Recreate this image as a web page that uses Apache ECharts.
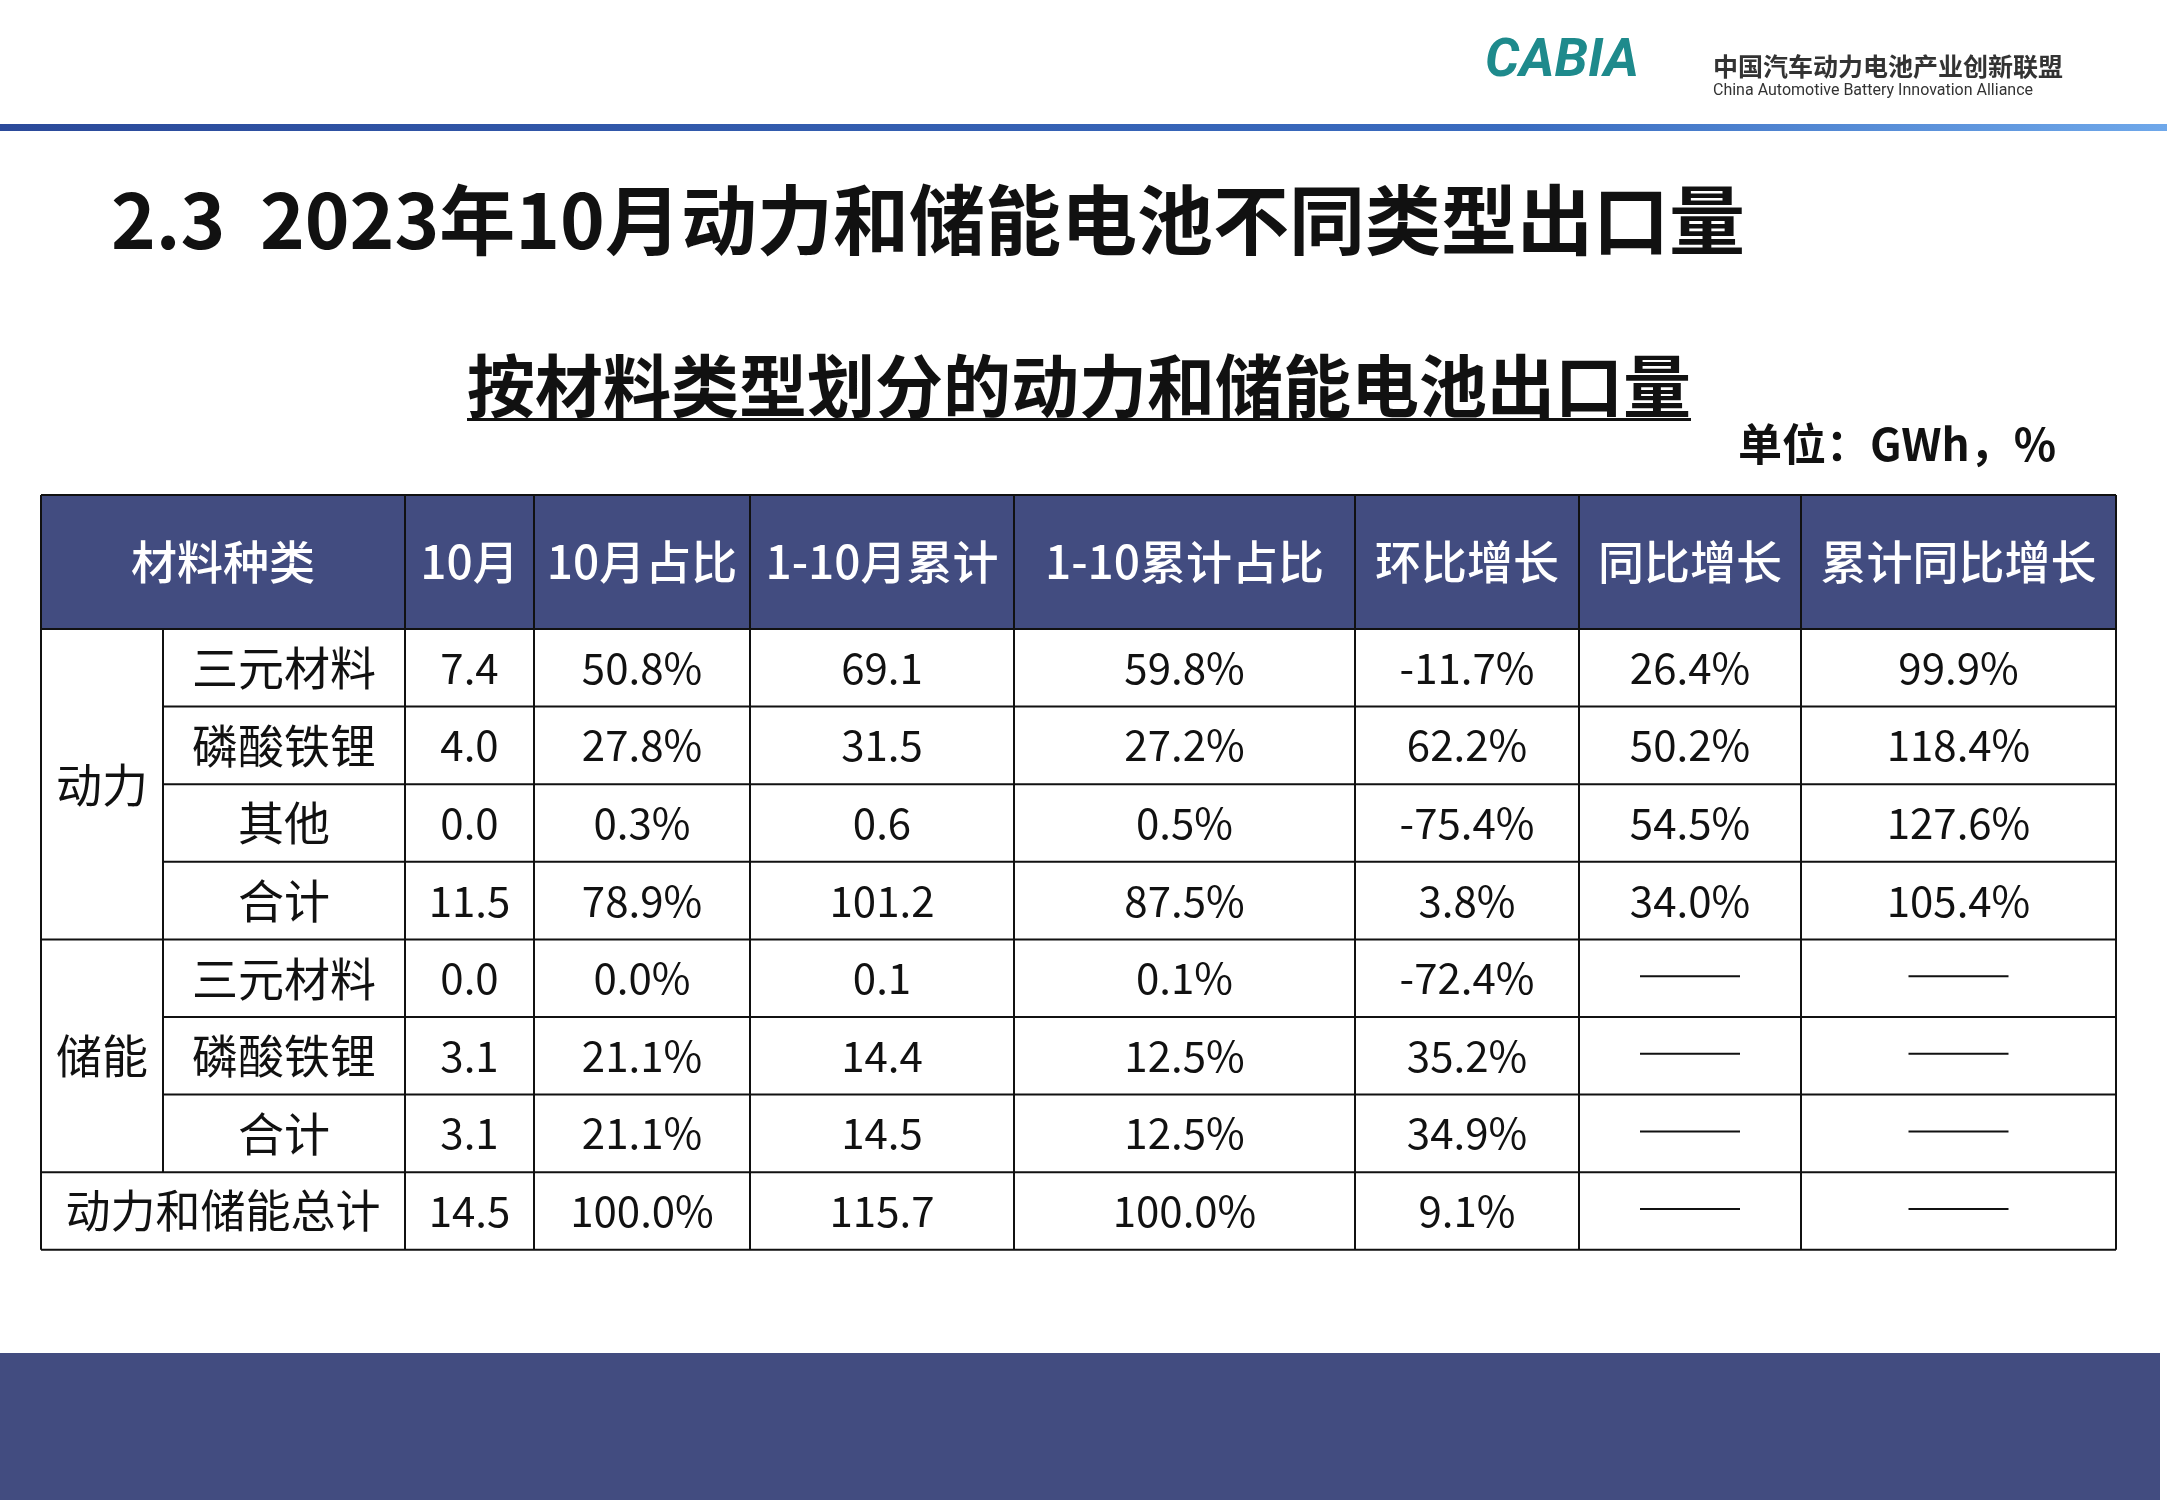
<!DOCTYPE html>
<html><head><meta charset="utf-8">
<script src="https://cdn.jsdelivr.net/npm/echarts@6/dist/echarts.min.js"></script>
<style>html,body{margin:0;padding:0;background:#fff}#c{width:2167px;height:1500px}</style>
</head><body><div id="c"></div>
<script>
const headers = ["材料种类","10月","10月占比","1-10月累计","1-10累计占比","环比增长","同比增长","累计同比增长"];
const groups = ["动力","储能"];
const rowGroup = [0,0,0,0,1,1,1];
const rowNames = ["三元材料","磷酸铁锂","其他","合计","三元材料","磷酸铁锂","合计"];
const totalName = "动力和储能总计";
const oct = ["7.4","4.0","0.0","11.5","0.0","3.1","3.1","14.5"];
const octShare = ["50.8%","27.8%","0.3%","78.9%","0.0%","21.1%","21.1%","100.0%"];
const cum = ["69.1","31.5","0.6","101.2","0.1","14.4","14.5","115.7"];
const cumShare = ["59.8%","27.2%","0.5%","87.5%","0.1%","12.5%","12.5%","100.0%"];
const mom = ["-11.7%","62.2%","-75.4%","3.8%","-72.4%","35.2%","34.9%","9.1%"];
const yoy = ["26.4%","50.2%","54.5%","34.0%",null,null,null,null];
const cumYoy = ["99.9%","118.4%","127.6%","105.4%",null,null,null,null];

const colX = [41,163,405,534,750,1014,1355,1579,1801,2116];
const headTop = 495, headBot = 629, rowH = 77.6;
const NAVY = "#424c80";
const g = [];
g.push({type:'rect',shape:{x:0,y:124,width:2167,height:7},style:{fill:new echarts.graphic.LinearGradient(0,0,1,0,[{offset:0,color:'#2b4a9a'},{offset:0.7,color:'#3a6cc0'},{offset:1,color:'#6fa8ea'}])}});
g.push({type:'text',x:1485,y:62,style:{text:'CABIA',font:'italic bold 54px Roboto',fill:'#1e8a8c',textVerticalAlign:'middle'}});
g.push({type:'text',x:1713,y:66,style:{text:'中国汽车动力电池产业创新联盟',font:'bold 25px "Noto Sans CJK SC"',fill:'#333',textVerticalAlign:'middle'}});
g.push({type:'text',x:1713,y:91,style:{text:'China Automotive Battery Innovation Alliance',font:'16px Roboto',fill:'#333',textVerticalAlign:'middle'}});
g.push({type:'text',x:111,y:220,style:{text:'2.3  2023年10月动力和储能电池不同类型出口量',font:'bold 76px "Noto Sans CJK SC"',fill:'#111',textVerticalAlign:'middle',shadowColor:'rgba(0,0,0,0.35)',shadowOffsetX:3,shadowOffsetY:3,shadowBlur:3}});
g.push({type:'text',x:1079,y:386,style:{text:'按材料类型划分的动力和储能电池出口量',font:'bold 68px "Noto Sans CJK SC"',fill:'#111',textAlign:'center',textVerticalAlign:'middle'}});
g.push({type:'rect',shape:{x:467,y:418,width:1224,height:3},style:{fill:'#111'}});
g.push({type:'text',x:2056,y:444,style:{text:'单位：GWh，%',font:'bold 44px "Noto Sans CJK SC"',fill:'#111',textAlign:'right',textVerticalAlign:'middle'}});
g.push({type:'rect',shape:{x:colX[0],y:headTop,width:colX[9]-colX[0],height:headBot-headTop},style:{fill:NAVY}});
const hc = (i)=> i===0 ? (colX[0]+colX[2])/2 : (colX[i+1]+colX[i+2])/2;
headers.forEach((h,i)=>g.push({type:'text',x:hc(i),y:(headTop+headBot)/2,style:{text:h,font:'500 46px "Noto Sans CJK SC"',fill:'#fff',textAlign:'center',textVerticalAlign:'middle'}}));
const tableBot = headBot + rowH*8;
const ln = (x1,y1,x2,y2)=>g.push({type:'line',shape:{x1,y1,x2,y2},style:{stroke:'#111',lineWidth:2}});
ln(colX[0],headTop,colX[0],tableBot); ln(colX[9],headTop,colX[9],tableBot);
ln(colX[0],headTop,colX[9],headTop);
for(let i=2;i<9;i++) ln(colX[i],headTop,colX[i],tableBot);
ln(colX[1],headBot,colX[1],headBot+rowH*7);
for(let r=0;r<=8;r++){
  const y=headBot+rowH*r;
  const startsGroup = r===0||r===4||r===7||r===8;
  ln(startsGroup?colX[0]:colX[1],y,colX[9],y);
}
const cols = [oct,octShare,cum,cumShare,mom,yoy,cumYoy];
const txt=(x,y,t)=>g.push({type:'text',x,y,style:{text:t,font:'42px "Noto Sans CJK SC"',fill:'#111',textAlign:'center',textVerticalAlign:'middle'}});
groups.forEach((gn,gi)=>{
  const rows = rowGroup.map((v,i)=>v===gi?i:-1).filter(i=>i>=0);
  const yc = headBot + rowH*(rows[0]+rows[rows.length-1]+1)/2;
  g.push({type:'text',x:(colX[0]+colX[1])/2,y:yc,style:{text:gn,font:'46px "Noto Sans CJK SC"',fill:'#111',textAlign:'center',textVerticalAlign:'middle'}});
});
for(let r=0;r<8;r++){
  const yc=headBot+rowH*(r+0.5);
  if(r<7) g.push({type:'text',x:(colX[1]+colX[2])/2,y:yc,style:{text:rowNames[r],font:'46px "Noto Sans CJK SC"',fill:'#111',textAlign:'center',textVerticalAlign:'middle'}});
  else g.push({type:'text',x:(colX[0]+colX[2])/2,y:yc,style:{text:totalName,font:'45px "Noto Sans CJK SC"',fill:'#111',textAlign:'center',textVerticalAlign:'middle'}});
  cols.forEach((c,ci)=>{
    const xc=(colX[ci+2]+colX[ci+3])/2;
    if(c[r]===null) g.push({type:'line',shape:{x1:xc-50,y1:yc-2,x2:xc+50,y2:yc-2},style:{stroke:'#111',lineWidth:2}});
    else txt(xc,yc,c[r]);
  });
}
g.push({type:'rect',shape:{x:0,y:1353,width:2160,height:147},style:{fill:NAVY}});
const chart = echarts.init(document.getElementById('c'));
chart.setOption({animation:false,graphic:g});
</script></body></html>
